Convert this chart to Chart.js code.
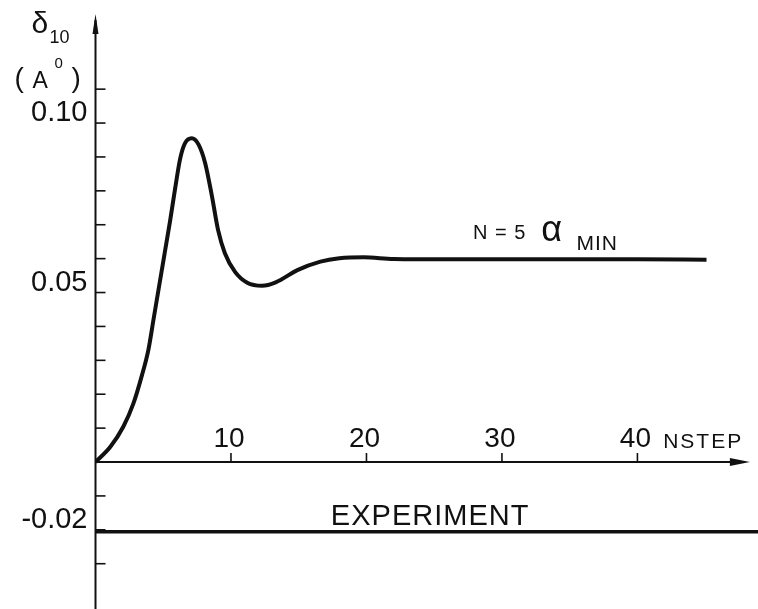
<!DOCTYPE html>
<html>
<head>
<meta charset="utf-8">
<script src="https://cdn.jsdelivr.net/npm/chart.js@4.4.0/dist/chart.umd.min.js"></script>
<style>
  html, body { margin: 0; padding: 0; background: #fff; }
  #wrap { position: relative; width: 758px; height: 609px; }
</style>
</head>
<body>
<div id="wrap"><canvas id="chart"></canvas></div>
<script>
// delta_10 (A^0) against NSTEP, run N=5 alpha_MIN
const nstep = [0, 1.1, 2.05, 2.8, 3.4, 3.9, 4.3, 4.7, 5.1, 5.5, 5.87, 6.25, 6.6, 7.1, 7.6, 8.1, 8.6, 9.05, 9.55, 10.3, 11.2, 12.3, 13.3, 14.9, 16.6, 18, 19.8, 22, 26, 30, 35, 40, 45.1];
const delta10 = [0, 0.0045, 0.0104, 0.0173, 0.0252, 0.033, 0.0425, 0.052, 0.0615, 0.071, 0.0805, 0.0895, 0.094, 0.0955, 0.0937, 0.0881, 0.0783, 0.0684, 0.0616, 0.0561, 0.0529, 0.052, 0.053, 0.0566, 0.0591, 0.0601, 0.0604, 0.0599, 0.0598, 0.0598, 0.0598, 0.0598, 0.0597];

// experimental value (flat line)
const expNstep = [0, 48.9];
const expDelta = [-0.0206, -0.0206];

const xTickValues = [10, 20, 30, 40];
const xTickLabels = ['10', '20', '30', '40'];
const yTickValues = [0.10, 0.05, -0.02];
const yTickLabels = ['0.10', '0.05', '-0.02'];
// little marks along the y axis, every 0.01
const yMarkValues = [0.11, 0.10, 0.09, 0.08, 0.07, 0.06, 0.05, 0.04, 0.03, 0.02, 0.01, -0.01, -0.02, -0.03];

const ink = '#111';
const FONT = "'Liberation Sans', Arial, sans-serif";

const handAxes = {
  id: 'handAxes',
  afterDatasetsDraw(chart) {
    const { ctx, chartArea, scales: { x, y } } = chart;
    const x0 = x.getPixelForValue(0);
    const y0 = y.getPixelForValue(0);
    ctx.save();
    ctx.strokeStyle = ink;
    ctx.fillStyle = ink;
    ctx.lineCap = 'butt';

    // y axis with arrow
    const yTip = y.getPixelForValue(0.1322);
    ctx.lineWidth = 2;
    ctx.beginPath();
    ctx.moveTo(x0, chartArea.bottom);
    ctx.lineTo(x0, yTip + 6);
    ctx.stroke();
    ctx.beginPath();
    ctx.moveTo(x0, yTip);
    ctx.lineTo(x0 - 3, yTip + 20);
    ctx.lineTo(x0 + 3, yTip + 20);
    ctx.closePath();
    ctx.fill();

    // y marks, pointing right
    ctx.lineWidth = 1.6;
    yMarkValues.forEach(v => {
      const py = y.getPixelForValue(v);
      ctx.beginPath();
      ctx.moveTo(x0, py);
      ctx.lineTo(x0 + 10, py);
      ctx.stroke();
    });

    // x axis with arrow
    const xTip = x.getPixelForValue(48.3);
    ctx.lineWidth = 2;
    ctx.beginPath();
    ctx.moveTo(x0, y0);
    ctx.lineTo(xTip - 8, y0);
    ctx.stroke();
    ctx.beginPath();
    ctx.moveTo(xTip, y0);
    ctx.lineTo(xTip - 20, y0 - 4);
    ctx.lineTo(xTip - 20, y0 + 4);
    ctx.closePath();
    ctx.fill();

    // x ticks, pointing up, labels above
    ctx.lineWidth = 1.6;
    ctx.font = '28px ' + FONT;
    ctx.textAlign = 'center';
    ctx.textBaseline = 'alphabetic';
    xTickValues.forEach((v, i) => {
      const px = x.getPixelForValue(v);
      ctx.beginPath();
      ctx.moveTo(px, y0);
      ctx.lineTo(px, y0 - 9);
      ctx.stroke();
      ctx.fillText(xTickLabels[i], px - 2, y0 - 15);
    });

    // axis title NSTEP
    ctx.textAlign = 'left';
    ctx.font = '21px ' + FONT;
    ctx.letterSpacing = '2px';
    ctx.fillText('NSTEP', x.getPixelForValue(41.9), y0 - 14);
    ctx.letterSpacing = '0px';

    // y axis title: delta_10 (A^0)
    ctx.font = '30px ' + FONT;
    ctx.fillText('\u03b4', x0 - 64, 33);
    ctx.font = '18px ' + FONT;
    ctx.fillText('10', x0 - 46, 43);
    ctx.font = '28px ' + FONT;
    ctx.fillText('(', x0 - 81, 87);
    ctx.font = '23px ' + FONT;
    ctx.fillText('A', x0 - 63, 88);
    ctx.font = '15px ' + FONT;
    ctx.fillText('0', x0 - 41, 68);
    ctx.font = '28px ' + FONT;
    ctx.fillText(')', x0 - 24, 87);

    // curve annotation
    ctx.font = '20px ' + FONT;
    ctx.letterSpacing = '1px';
    ctx.fillText('N = 5', x.getPixelForValue(27.86), y.getPixelForValue(0.0658));
    ctx.letterSpacing = '0px';
    ctx.font = '36px ' + FONT;
    ctx.fillText('\u03b1', x.getPixelForValue(32.9), y.getPixelForValue(0.0652));
    ctx.font = '21px ' + FONT;
    ctx.letterSpacing = '1px';
    ctx.fillText('MIN', x.getPixelForValue(35.5), y.getPixelForValue(0.0625));

    // experiment label
    ctx.textAlign = 'center';
    ctx.font = '29px ' + FONT;
    ctx.fillText('EXPERIMENT', x.getPixelForValue(24.7), y.getPixelForValue(-0.0186));
    ctx.restore();
  }
};

new Chart(document.getElementById('chart'), {
  type: 'line',
  data: {
    datasets: [
      {
        label: 'N=5 alpha MIN',
        data: nstep.map((v, i) => ({ x: v, y: delta10[i] })),
        borderColor: ink,
        borderWidth: 4,
        pointRadius: 0,
        cubicInterpolationMode: 'monotone',
        fill: false
      },
      {
        label: 'EXPERIMENT',
        data: expNstep.map((v, i) => ({ x: v, y: expDelta[i] })),
        borderColor: ink,
        borderWidth: 3.5,
        pointRadius: 0,
        fill: false
      }
    ]
  },
  options: {
    responsive: true,
    maintainAspectRatio: false,
    animation: false,
    layout: { padding: 0 },
    scales: {
      x: {
        type: 'linear',
        min: 0,
        max: 48.9,
        display: false
      },
      y: {
        type: 'linear',
        min: -0.04336,
        max: 0.1363,
        afterFit(scale) {
          scale.width = 95.5;
          scale.paddingTop = 0;
          scale.paddingBottom = 0;
        },
        afterBuildTicks(scale) {
          scale.ticks = yTickValues.map(v => ({ value: v }));
        },
        grid: { display: false, drawTicks: false },
        border: { display: false },
        ticks: {
          padding: 8,
          labelOffset: -10,
          color: ink,
          font: { family: FONT, size: 29 },
          callback: function(value) {
            const i = yTickValues.findIndex(v => Math.abs(v - value) < 1e-9);
            return i >= 0 ? yTickLabels[i] : '';
          }
        }
      }
    },
    plugins: {
      legend: { display: false },
      tooltip: { enabled: false }
    }
  },
  plugins: [handAxes]
});
</script>
</body>
</html>
